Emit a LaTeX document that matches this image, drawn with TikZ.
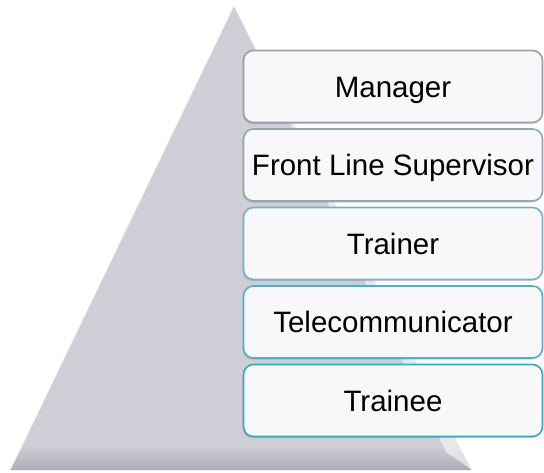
\documentclass[tikz,border=0pt]{standalone}
\usepackage{fontspec}
\setmainfont{Liberation Sans}
\usetikzlibrary{shadows}
\definecolor{pyrfill}{RGB}{205,206,214}
\definecolor{pyrdark}{RGB}{168,169,178}
\definecolor{boxfill}{RGB}{248,248,250}
\definecolor{mgrline}{RGB}{156,158,168}
\definecolor{flsline}{RGB}{148,166,176}
\definecolor{trnline}{RGB}{118,178,196}
\definecolor{telline}{RGB}{88,172,196}
\definecolor{treline}{RGB}{58,166,198}
\begin{document}
\begin{tikzpicture}[x=1pt,y=-1pt,semithick,
  tier/.style={draw,line width=1.6pt,rounded corners=10pt,fill=boxfill,
    minimum width=299pt,minimum height=72pt,inner sep=0pt,
    text height=21pt,text depth=0pt,
    font=\fontsize{29.5}{34}\selectfont,
    drop shadow={shadow xshift=-1pt,shadow yshift=-1.5pt,opacity=0.35}}]
\useasboundingbox (0,0) rectangle (544,472);
\coordinate (apex) at (234,5);
\coordinate (bl) at (10,470);
\coordinate (br) at (472,470);
% pyramid
\fill[pyrfill] (apex) -- (bl) -- (br) -- cycle;
\begin{scope}
\clip (apex) -- (bl) -- (br) -- cycle;
\shade[top color=pyrfill,bottom color=pyrdark] (0,446) rectangle (544,472);
\end{scope}
\fill[white,opacity=0.55] (apex) -- (br) -- (446,452) -- cycle;
\draw[white,line width=1.2pt,opacity=0.8] (apex) -- (br);
\draw[white,line width=1.5pt,opacity=0.6] (apex) -- (bl);
% tiers
\node[tier,draw=mgrline] (mgr) at (393,86.5) {Manager};
\node[tier,draw=flsline] (fls) at (393,165) {Front Line Supervisor};
\node[tier,draw=trnline] (trn) at (393,243.5) {Trainer};
\node[tier,draw=telline] (tel) at (393,322) {Telecommunicator};
\node[tier,draw=treline] (tre) at (393,400.5) {Trainee};
\end{tikzpicture}
\end{document}
